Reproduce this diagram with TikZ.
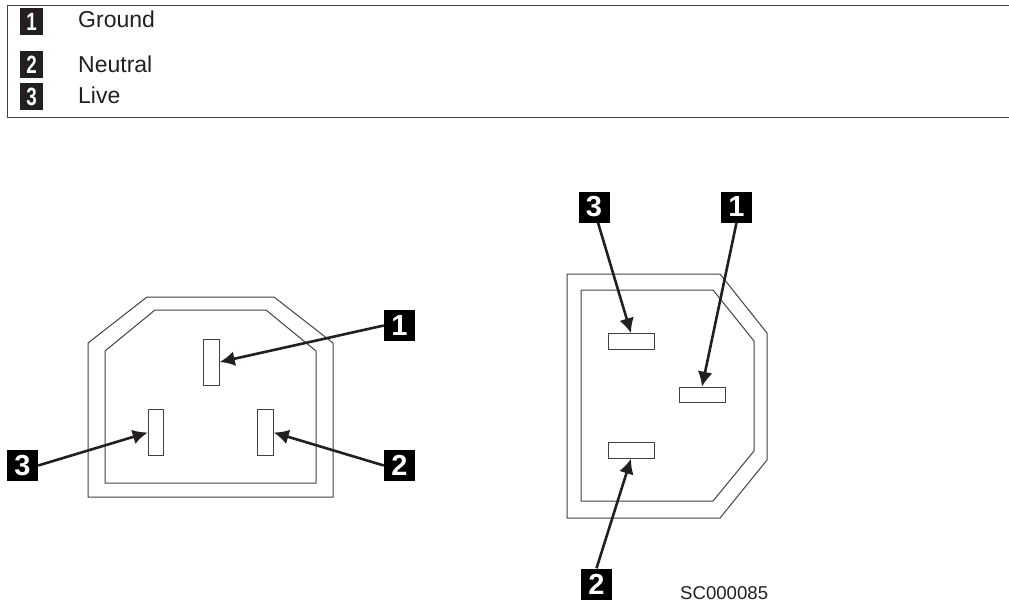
\documentclass[tikz,border=0pt]{standalone}
\usepackage{fontspec}
\setmainfont{Liberation Sans}
\usepackage{tikz}
\usetikzlibrary{arrows.meta, positioning}
\definecolor{PlugInk}{HTML}{231F20}

\begin{document}
\begin{tikzpicture}[
  x=1pt, y=-1pt,
  badge/.style={rectangle, fill=black, text=white, inner sep=0pt, minimum width=31pt, minimum height=31pt, font=\fontsize{29}{29}\selectfont\bfseries},
  keybadge/.style={rectangle, fill=PlugInk, text=white, inner sep=0pt, minimum width=23pt, minimum height=27pt, font=\fontsize{25}{25}\selectfont\bfseries},
  keytext/.style={anchor=base west, inner sep=0pt, text=PlugInk, font=\fontsize{23}{23}\selectfont},
  pinv/.style={rectangle, draw=PlugInk!85, line width=1pt, inner sep=0pt, minimum width=15.5pt, minimum height=46pt},
  pinh/.style={rectangle, draw=PlugInk!85, line width=1pt, inner sep=0pt, minimum width=46pt, minimum height=15.5pt},
  outline/.style={draw=PlugInk!85, line width=1pt},
  lead/.style={draw=PlugInk, line width=2.6pt, -{Latex[length=15pt,width=15pt]}}
]
\useasboundingbox (0,0) rectangle (1009,602);

% key table
\draw[outline] (1009,5.5) -- (7.5,5.5) -- (7.5,117.5) -- (1009,117.5);
\node[keybadge] (key1) at (31.5,21.5) {\scalebox{0.75}[1]{1}};
\node[keybadge] (key2) at (31.5,64.5) {\scalebox{0.75}[1]{2}};
\node[keybadge] (key3) at (31.5,96.5) {\scalebox{0.75}[1]{3}};
\node[keytext] (ground) at (78,28) {Ground};
\node[keytext] (neutral) at (78,72) {Neutral};
\node[keytext] (live) at (78,103) {Live};

% left plug
\draw[outline] (88,343) -- (147,297) -- (274,297) -- (333,343) -- (333,497) -- (88,497) -- cycle;
\draw[outline] (105,351) -- (155,310) -- (266,310) -- (316,351) -- (316,483) -- (105,483) -- cycle;
\node[pinv] (leftE) at (211.5,362) {};
\node[pinv] (leftL) at (156,432.5) {};
\node[pinv] (leftN) at (265.5,432.5) {};
\node[badge] (left1) at (399.5,325.5) {1};
\node[badge] (left2) at (399.5,465.5) {2};
\node[badge] (left3) at (22.5,465.5) {3};
\draw[lead] (left1.west) -- (leftE.east);
\draw[lead] (left2.west) -- (leftN.east);
\draw[lead] (left3.east) -- (leftL.west);

% right plug
\draw[outline] (567,274) -- (720,274) -- (767,333) -- (767,460) -- (720,518) -- (567,518) -- cycle;
\draw[outline] (581,290) -- (713,290) -- (754,341) -- (754,451) -- (713,501) -- (581,501) -- cycle;
\node[pinh] (rightL) at (631,341.5) {};
\node[pinh] (rightE) at (702,395) {};
\node[pinh] (rightN) at (631,450.5) {};
\node[badge] (right3) at (594,207) {3};
\node[badge] (right1) at (736.5,207) {1};
\node[badge] (right2) at (596.5,584) {2};
\draw[lead] ([xshift=4pt]right3.south) -- (rightL.north);
\draw[lead] (right1.south) -- (rightE.north);
\draw[lead] (right2.north) -- (rightN.south);

\node[keytext, font=\fontsize{18.6}{18.6}\selectfont] (partno) at (680,599) {SC000085};
\end{tikzpicture}
\end{document}
